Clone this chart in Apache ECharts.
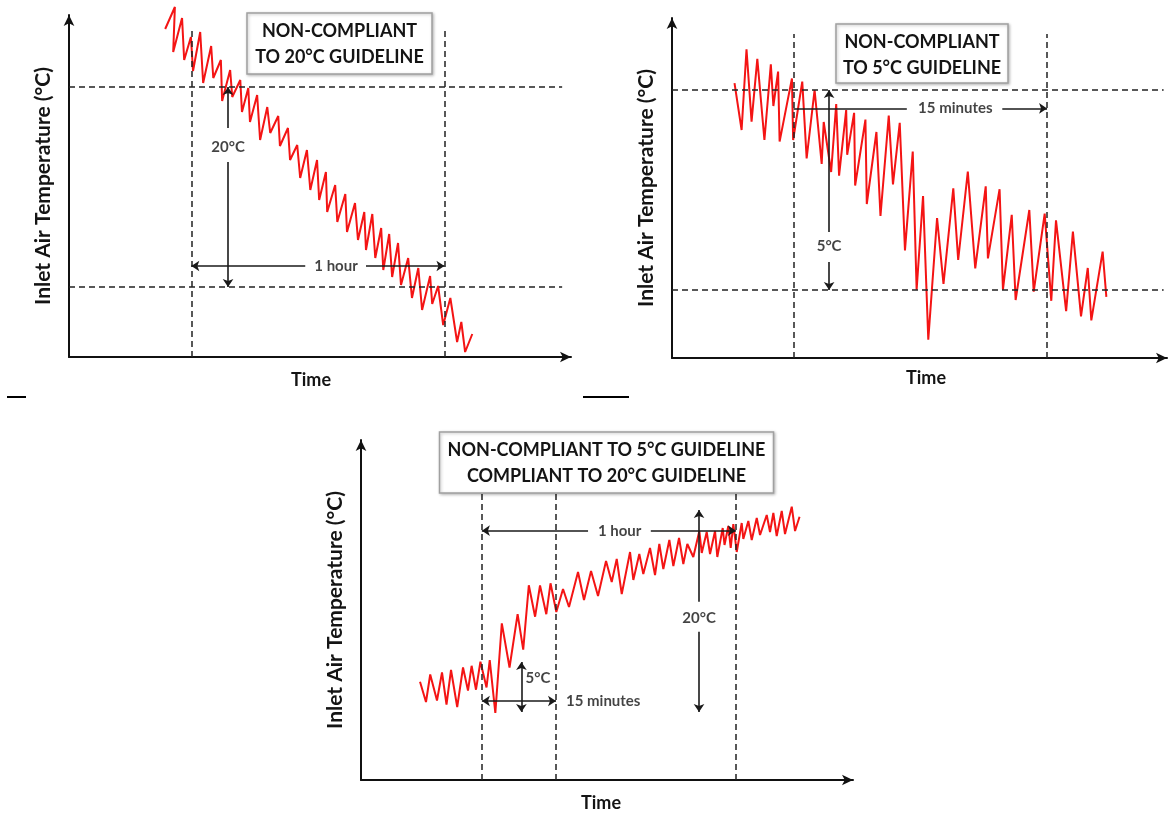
<!DOCTYPE html>
<html>
<head>
<meta charset="utf-8">
<script src="https://cdn.jsdelivr.net/npm/echarts@6/dist/echarts.min.js"></script>
<style>
html,body{margin:0;padding:0;background:#fff;}
#chart{width:1172px;height:814px;}
</style>
</head>
<body>
<div id="chart"></div>
<script>
// ---------- Panel 1 : non-compliant to 20°C guideline (time in min, temperature in °C) ----------
const p1Time = [22.8,25.1,24.7,26.8,27.3,28.9,29.4,31.1,31.8,33.7,34.2,36.0,36.3,38.2,38.7,40.6,41.0,42.5,42.9,44.6,45.3,47.0,47.7,49.6,50.0,51.9,52.4,54.1,54.8,56.4,57.2,58.8,59.3,60.9,61.2,63.1,63.6,65.5,65.9,67.8,68.5,70.0,70.4,71.9,72.6,74.0,74.5,75.9,76.6,78.0,78.7,80.4,81.3,82.8,83.7,85.6,86.1,87.5,88.7,90.4,92.0,93.0,93.9,95.6];
const p1Temp = [32.8,35.0,30.5,33.9,29.7,32.0,28.6,32.5,27.4,31.1,27.9,29.7,25.6,28.7,26.0,27.7,24.5,26.9,23.5,26.2,21.7,25.0,22.4,24.1,21.1,22.9,19.7,21.2,17.9,20.7,16.7,19.7,15.7,18.5,14.5,17.2,13.5,16.3,12.5,15.4,11.7,14.5,10.7,14.3,9.9,12.9,8.7,12.3,8.0,11.4,7.2,9.9,5.9,8.9,4.7,8.1,5.3,7.1,3.2,5.9,1.5,3.5,0.5,2.3];
const p1GuideTime = [29, 89];
const p1GuideTemp = [7, 27];

// ---------- Panel 2 : non-compliant to 5°C guideline ----------
const p2Time = [3.70,4.12,4.41,4.71,5.05,5.47,5.85,6.00,6.28,6.37,7.10,7.17,7.71,7.97,8.44,8.86,8.98,9.42,9.72,9.89,10.31,10.37,10.78,10.84,11.45,11.53,12.10,12.34,12.83,13.08,13.48,13.79,14.25,14.48,14.86,15.17,15.69,16.07,16.65,16.94,17.51,17.95,18.57,18.70,19.39,19.59,20.11,20.34,21.15,21.41,22.06,22.45,22.73,23.33,23.73,24.21,24.61,24.82,25.49,25.71];
const p2Temp = [6.87,5.70,7.72,5.91,7.48,5.45,7.34,6.30,7.16,5.41,6.99,5.45,6.91,4.99,6.70,4.85,5.90,4.65,6.35,4.56,6.20,5.08,6.13,4.31,5.96,3.85,5.65,3.55,6.06,4.34,5.88,2.69,5.16,1.71,4.05,0.46,3.50,1.85,4.24,2.45,4.66,2.24,4.29,2.49,4.22,1.71,3.58,1.45,3.70,1.66,3.61,1.43,3.44,1.17,3.16,1.04,2.25,0.94,2.66,1.53];
const p2GuideTime = [7.2, 22.2];
const p2GuideTemp = [1.7, 6.7];

// ---------- Panel 3 : non-compliant to 5°C, compliant to 20°C ----------
const p3Time = [14.01,15.43,16.43,18.04,19.23,20.30,21.37,22.84,24.22,25.40,26.26,27.30,28.35,29.80,30.56,31.89,33.43,35.26,37.18,38.51,39.84,41.33,42.50,43.99,44.99,46.37,47.96,49.38,51.52,52.94,54.61,56.27,58.17,59.52,60.71,61.90,63.87,64.65,66.07,67.02,68.61,69.80,70.82,71.77,73.20,74.15,75.50,76.52,77.47,78.89,80.32,80.89,82.07,82.86,84.05,84.59,85.87,86.30,87.20,87.77,88.39,89.20,90.38,90.76,91.95,92.76,93.95,94.73,96.32,97.10,97.89,98.69,99.88,100.66,102.26,103.04,104.11];
const p3Temp = [9.83,7.80,10.55,7.95,10.75,7.55,11.00,7.30,11.25,8.95,11.42,9.03,11.83,9.25,12.00,6.70,15.67,11.25,16.58,13.03,19.47,16.33,19.45,16.58,19.67,16.80,19.10,17.30,20.80,18.00,20.90,18.40,21.90,19.80,22.10,18.60,22.80,20.00,22.60,20.60,23.20,20.50,23.60,21.10,24.00,21.40,24.20,21.60,23.60,22.30,24.90,22.70,24.80,22.60,24.90,22.30,25.20,23.50,25.40,23.20,25.60,22.80,25.70,24.10,25.90,24.00,26.20,24.50,26.50,24.80,26.70,24.40,26.90,24.60,27.33,24.90,26.33];
const p3GuideTime = [28.7, 46.3, 89];
const p3GuideTemp = [6.8, 11.8, 27.0];

// ---------- Texts ----------
const yTitle = 'Inlet Air Temperature (°C)';
const xTitle = 'Time';
const boxTexts = [
  ['NON-COMPLIANT', 'TO 20°C GUIDELINE'],
  ['NON-COMPLIANT', 'TO 5°C GUIDELINE'],
  ['NON-COMPLIANT TO 5°C GUIDELINE', 'COMPLIANT TO 20°C GUIDELINE']
];

// annotation labels: [time, temp, text]
const p1Labels = [[37.7, 21.0, '20°C'], [63.3, 9.1, '1 hour']];
const p2Labels = [[16.77, 6.24, '15 minutes'], [9.3, 2.8, '5°C']];
const p3Labels = [[61.4, 24.93, '1 hour'], [80.25, 16.2, '20°C'], [42.0, 10.2, '5°C'], [57.5, 7.9, '15 minutes']];

// ---------- helpers ----------
const FONT = 'Lato, "Open Sans", sans-serif';
const INK = '#141414';
const pairs = (a, b) => a.map((v, i) => [v, b[i]]);
const seg = (x0, y0, x1, y1, s0, s1) => [{coord: [x0, y0], symbol: s0}, {coord: [x1, y1], symbol: s1}];

function guideLines(times, temps, vTop, hRight) {
  const out = [];
  times.forEach(t => out.push(seg(t, 0, t, vTop, 'none', 'none')));
  temps.forEach(v => out.push(seg(0, v, hRight, v, 'none', 'none')));
  return out;
}

const grids = [
  {left: 69, top: 15, width: 502, height: 342},
  {left: 672, top: 18, width: 495, height: 340},
  {left: 361, top: 440, width: 492, height: 340}
];
const xMax = [119, 29.3, 116.8];
const yMax = [34.2, 8.5, 34.0];

const axisLine = {show: true, symbol: ['none', 'arrow'], symbolSize: [8, 11], lineStyle: {color: '#111', width: 2}};

const xAxes = xMax.map((m, i) => ({
  type: 'value', gridIndex: i, min: 0, max: m,
  axisLine, axisTick: {show: false}, axisLabel: {show: false}, splitLine: {show: false}
}));
const yAxes = yMax.map((m, i) => ({
  type: 'value', gridIndex: i, min: 0, max: m,
  axisLine, axisTick: {show: false}, axisLabel: {show: false}, splitLine: {show: false},
  name: yTitle, nameLocation: 'middle', nameGap: 15, nameRotate: 90,
  nameTextStyle: {fontFamily: FONT, fontWeight: 'bold', fontSize: 21, color: INK}
}));

const guides = [
  guideLines(p1GuideTime, p1GuideTemp, 32.7, 116.9),
  guideLines(p2GuideTime, p2GuideTemp, 8.1, 29.1),
  guideLines(p3GuideTime, p3GuideTemp, 28.8, 117.3)
];

const dims = [
  [seg(37.7, 22.9, 37.7, 27, 'none', 'arrow'), seg(37.7, 19.5, 37.7, 7, 'none', 'arrow'),
   seg(56.0, 9.1, 29, 9.1, 'none', 'arrow'), seg(70.4, 9.1, 89, 9.1, 'none', 'arrow')],
  [seg(7.2, 6.24, 13.9, 6.24, 'none', 'none'), seg(19.55, 6.24, 22.2, 6.24, 'none', 'arrow'),
   seg(9.3, 3.15, 9.3, 6.7, 'none', 'arrow'), seg(9.3, 2.4, 9.3, 1.7, 'none', 'arrow')],
  [seg(53.9, 24.93, 28.7, 24.93, 'none', 'arrow'), seg(68.8, 24.93, 89, 24.93, 'none', 'arrow'),
   seg(80.25, 17.83, 80.25, 27, 'none', 'arrow'), seg(80.25, 14.83, 80.25, 6.8, 'none', 'arrow'),
   seg(38.08, 6.8, 38.08, 11.8, 'arrow', 'arrow'), seg(28.7, 7.9, 46.3, 7.9, 'arrow', 'arrow')]
];
const labels = [p1Labels, p2Labels, p3Labels];
const lines = [pairs(p1Time, p1Temp), pairs(p2Time, p2Temp), pairs(p3Time, p3Temp)];

const series = [];
for (let i = 0; i < 3; i++) {
  series.push({
    type: 'scatter', xAxisIndex: i, yAxisIndex: i, data: [], silent: true, clip: false, z: 1,
    markLine: {
      silent: true, symbol: 'none', animation: false,
      label: {show: false},
      lineStyle: {type: [6, 4], color: '#222', width: 1.5},
      data: guides[i]
    }
  });
  series.push({
    type: 'line', xAxisIndex: i, yAxisIndex: i, data: lines[i], clip: false, z: 3,
    symbol: 'none', showSymbol: false, animation: false,
    lineStyle: {color: '#f41414', width: 2}
  });
  series.push({
    type: 'scatter', xAxisIndex: i, yAxisIndex: i, clip: false, z: 2, silent: true, animation: false,
    symbolSize: 0.1, itemStyle: {color: 'rgba(0,0,0,0)'},
    data: labels[i].map(l => ({value: [l[0], l[1]], name: l[2]})),
    label: {show: true, position: 'inside', formatter: '{b}', fontFamily: FONT, fontWeight: 'bold', fontSize: 15, color: INK},
    markLine: {
      silent: true, symbolSize: 8, animation: false,
      label: {show: false},
      lineStyle: {type: 'solid', color: '#1a1a1a', width: 1.6},
      data: dims[i]
    }
  });
}

const boxes = [
  {x: 247, y: 13, w: 185, h: 61},
  {x: 836, y: 24, w: 172, h: 59},
  {x: 439.5, y: 432, w: 334, h: 61}
];
const timePos = [[311, 380], [926, 378], [601, 803]];
const graphic = [];
boxes.forEach((b, i) => {
  graphic.push({type: 'rect', z: 100, shape: {x: b.x, y: b.y, width: b.w, height: b.h},
    style: {fill: '#fff', stroke: '#a0a0a0', lineWidth: 1.5, shadowBlur: 3, shadowOffsetX: 1, shadowOffsetY: 1, shadowColor: 'rgba(0,0,0,0.25)'}});
  boxTexts[i].forEach((t, k) => {
    graphic.push({type: 'text', z: 101, x: b.x + b.w / 2, y: b.y + 18 + k * 26,
      style: {text: t, font: 'bold 18px ' + FONT, fill: INK, textAlign: 'center', textVerticalAlign: 'middle', align: 'center', verticalAlign: 'middle'}});
  });
});
timePos.forEach(p => {
  graphic.push({type: 'text', z: 101, x: p[0], y: p[1],
    style: {text: xTitle, font: 'bold 18px ' + FONT, fill: INK, textAlign: 'center', textVerticalAlign: 'middle', align: 'center', verticalAlign: 'middle'}});
});
graphic.push({type: 'line', shape: {x1: 7, y1: 397, x2: 26, y2: 397}, style: {stroke: '#000', lineWidth: 2}});
graphic.push({type: 'line', shape: {x1: 583, y1: 397, x2: 629, y2: 397}, style: {stroke: '#000', lineWidth: 2}});

const chart = echarts.init(document.getElementById('chart'), null, {renderer: 'canvas'});
chart.setOption({
  animation: false,
  backgroundColor: '#fff',
  grid: grids,
  xAxis: xAxes,
  yAxis: yAxes,
  series,
  graphic
});
</script>
</body>
</html>
